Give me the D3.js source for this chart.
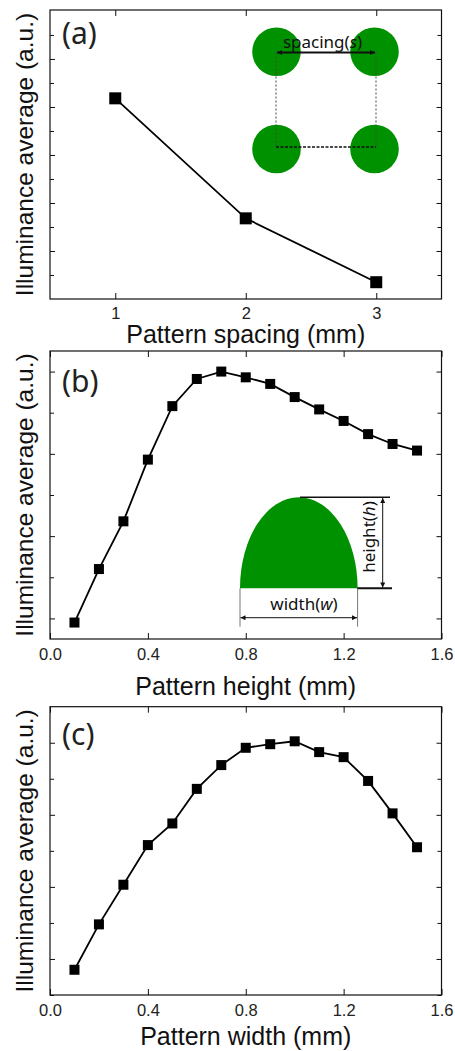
<!DOCTYPE html>
<html>
<head>
<meta charset="utf-8">
<script src="https://cdn.jsdelivr.net/npm/d3@7"></script>
<style>
  body { margin: 0; background: #fff; }
  svg { display: block; }
</style>
</head>
<body>
<div id="chart"></div>
<script>
// Data
const spacingX = [1, 2, 3];
const spacingY = [4.18, 1.68, 0.35];

const heightX = [0.1, 0.2, 0.3, 0.4, 0.5, 0.6, 0.7, 0.8, 0.9, 1.0, 1.1, 1.2, 1.3, 1.4, 1.5];
const heightY = [-0.05, 0.6, 1.18, 1.93, 2.58, 2.91, 3.0, 2.93, 2.85, 2.69, 2.54, 2.4, 2.24, 2.12, 2.04];

const widthX = [0.1, 0.2, 0.3, 0.4, 0.5, 0.6, 0.7, 0.8, 0.9, 1.0, 1.1, 1.2, 1.3, 1.4, 1.5];
const widthY = [-0.15, 0.48, 1.03, 1.58, 1.88, 2.36, 2.69, 2.93, 2.98, 3.02, 2.87, 2.8, 2.47, 2.02, 1.55];

const xTicksA = [1, 2, 3];
const xTicksBC = [0, 0.4, 0.8, 1.2, 1.6];

const panels = [
  {
    id: "a", label: "(a)", xs: spacingX, ys: spacingY,
    xDomain: [0.5, 3.5], yDomain: [0, 6.02],
    xTicks: xTicksA, xFormat: d3.format("d"),
    yMajor: [1, 2, 3, 4, 5], yMinor: [0.5, 1.5, 2.5, 3.5, 4.5, 5.5],
    xTitle: "Pattern spacing (mm)",
    top: 10, bottom: 299, markSize: 12, padding: 8, titleY: 343, labelY: 44
  },
  {
    id: "b", label: "(b)", xs: heightX, ys: heightY,
    xDomain: [0, 1.6], yDomain: [-0.25, 3.25],
    xTicks: xTicksBC, xFormat: d3.format(".1f"),
    yMajor: [0, 1, 2, 3], yMinor: [0.5, 1.5, 2.5],
    xTitle: "Pattern height (mm)",
    top: 351, bottom: 639, markSize: 10, padding: 9, titleY: 695, labelY: 392
  },
  {
    id: "c", label: "(c)", xs: widthX, ys: widthY,
    xDomain: [0, 1.6], yDomain: [-0.5, 3.5],
    xTicks: xTicksBC, xFormat: d3.format(".1f"),
    yMajor: [0, 1, 2, 3], yMinor: [-0.5, 0.5, 1.5, 2.5],
    xTitle: "Pattern width (mm)",
    top: 706.7, bottom: 995, markSize: 10, padding: 9, titleY: 1045, labelY: 745
  }
];

// Dimensions
const dimensions = { width: 455, height: 1051, left: 50, right: 441.5 };

const svg = d3
  .select("#chart")
  .append("svg")
  .attr("width", dimensions.width)
  .attr("height", dimensions.height)
  .style("font-family", "'Liberation Sans', Arial, sans-serif");

const defs = svg.append("defs");
defs
  .append("marker")
  .attr("id", "arr")
  .attr("viewBox", "0 0 10 10")
  .attr("refX", 10)
  .attr("refY", 5)
  .attr("markerUnits", "userSpaceOnUse")
  .attr("markerWidth", 7)
  .attr("markerHeight", 5)
  .attr("orient", "auto-start-reverse")
  .append("path")
  .attr("d", "M0,0 L10,5 L0,10 Z")
  .attr("fill", "#111");

const insetFont = "'Noto Sans', 'Open Sans', sans-serif";
const green = "#009100";

panels.forEach((p) => {
  const xScale = d3.scaleLinear().domain(p.xDomain).range([dimensions.left, dimensions.right]);
  const yScale = d3.scaleLinear().domain(p.yDomain).range([p.bottom, p.top]);
  const g = svg.append("g").attr("class", "panel-" + p.id);

  // ticks (inward on all four sides)
  const tickStyle = (sel) => {
    sel.select(".domain").remove();
    sel.selectAll(".tick line").attr("stroke", "#111");
  };
  g.append("g").attr("transform", `translate(${dimensions.left},0)`)
    .call(d3.axisLeft(yScale).tickValues(p.yMajor).tickSize(-5).tickFormat(""))
    .call(tickStyle);
  g.append("g").attr("transform", `translate(${dimensions.left},0)`)
    .call(d3.axisLeft(yScale).tickValues(p.yMinor).tickSize(-4).tickFormat(""))
    .call(tickStyle);
  g.append("g").attr("transform", `translate(${dimensions.right},0)`)
    .call(d3.axisRight(yScale).tickValues(p.yMajor).tickSize(-5).tickFormat(""))
    .call(tickStyle);
  g.append("g").attr("transform", `translate(${dimensions.right},0)`)
    .call(d3.axisRight(yScale).tickValues(p.yMinor).tickSize(-4).tickFormat(""))
    .call(tickStyle);
  g.append("g").attr("transform", `translate(0,${p.top})`)
    .call(d3.axisTop(xScale).tickValues(p.xTicks).tickSize(-6).tickFormat(""))
    .call(tickStyle);

  const xAxis = g.append("g").attr("transform", `translate(0,${p.bottom})`)
    .call(d3.axisBottom(xScale).tickValues(p.xTicks).tickSize(-6).tickPadding(p.padding).tickFormat(p.xFormat))
    .call(tickStyle);
  xAxis.attr("font-size", 16.5).attr("font-family", "'Liberation Sans', Arial, sans-serif");
  xAxis.selectAll(".tick text").attr("fill", "#222");

  // frame
  g.append("rect")
    .attr("x", dimensions.left)
    .attr("y", p.top)
    .attr("width", dimensions.right - dimensions.left)
    .attr("height", p.bottom - p.top)
    .attr("fill", "none")
    .attr("stroke", "#111")
    .attr("stroke-width", 1.2);

  // line + markers
  const data = p.xs.map((x, i) => ({ x, y: p.ys[i] }));
  const lineGenerator = d3.line().x((d) => xScale(d.x)).y((d) => yScale(d.y));
  g.append("path")
    .datum(data)
    .attr("d", lineGenerator)
    .attr("fill", "none")
    .attr("stroke", "#000")
    .attr("stroke-width", 1.8);
  g.selectAll("rect.pt")
    .data(data)
    .join("rect")
    .attr("class", "pt")
    .attr("x", (d) => xScale(d.x) - p.markSize / 2)
    .attr("y", (d) => yScale(d.y) - p.markSize / 2)
    .attr("width", p.markSize)
    .attr("height", p.markSize)
    .attr("fill", "#000");

  // titles
  g.append("text")
    .attr("x", (dimensions.left + dimensions.right) / 2)
    .attr("y", p.titleY)
    .attr("text-anchor", "middle")
    .attr("font-size", 25)
    .attr("fill", "#111")
    .text(p.xTitle);
  g.append("text")
    .attr("transform", `translate(33,${(p.top + p.bottom) / 2}) rotate(-90)`)
    .attr("text-anchor", "middle")
    .attr("font-size", 24.5)
    .attr("fill", "#111")
    .text("Illuminance average (a.u.)");
  g.append("text")
    .attr("x", 62)
    .attr("y", p.labelY)
    .attr("font-size", 30)
    .attr("font-family", insetFont)
    .attr("fill", "#222")
    .text(p.label);

  p.g = g;
});

// Inset (a): four circles with spacing
const insetA = panels[0].g.append("g");
const cxs = [276.5, 374.5];
const cys = [51.7, 149];
cys.forEach((cy) => cxs.forEach((cx) => {
  insetA.append("circle").attr("cx", cx).attr("cy", cy).attr("r", 24.3).attr("fill", green);
}));
[276, 376].forEach((x) => {
  insetA.append("line").attr("x1", x).attr("x2", x).attr("y1", 52.5).attr("y2", 147)
    .attr("stroke", "#444").attr("stroke-width", 1).attr("stroke-dasharray", "2,2");
});
insetA.append("line").attr("x1", 276).attr("x2", 376).attr("y1", 147).attr("y2", 147)
  .attr("stroke", "#111").attr("stroke-width", 1.6).attr("stroke-dasharray", "3,1.5");
insetA.append("line").attr("x1", 277).attr("x2", 375).attr("y1", 52.5).attr("y2", 52.5)
  .attr("stroke", "#111").attr("stroke-width", 1.8)
  .attr("marker-start", "url(#arr)").attr("marker-end", "url(#arr)");
const spacingText = insetA.append("text")
  .attr("x", 322.5).attr("y", 48).attr("text-anchor", "middle")
  .attr("font-size", 17).attr("font-family", insetFont).attr("fill", "#111");
spacingText.append("tspan").text("spacing(");
spacingText.append("tspan").attr("font-style", "italic").text("s");
spacingText.append("tspan").text(")");

// Inset (b): dome with height and width
const insetB = panels[1].g.append("g");
insetB.append("path")
  .attr("d", "M240,588.3 A58.8,91 0 0 1 357.6,588.3 Z")
  .attr("fill", green);
insetB.append("line").attr("x1", 300).attr("x2", 390).attr("y1", 497.3).attr("y2", 497.3)
  .attr("stroke", "#111").attr("stroke-width", 1.5);
insetB.append("line").attr("x1", 357).attr("x2", 392).attr("y1", 588.3).attr("y2", 588.3)
  .attr("stroke", "#111").attr("stroke-width", 2);
insetB.append("line").attr("x1", 382.7).attr("x2", 382.7).attr("y1", 498).attr("y2", 587.5)
  .attr("stroke", "#111").attr("stroke-width", 1)
  .attr("marker-start", "url(#arr)").attr("marker-end", "url(#arr)");
const hText = insetB.append("text")
  .attr("transform", "translate(375,537) rotate(-90)")
  .attr("text-anchor", "middle")
  .attr("font-size", 17).attr("font-family", insetFont).attr("fill", "#111");
hText.append("tspan").text("height(");
hText.append("tspan").attr("font-style", "italic").text("h");
hText.append("tspan").text(")");
[240, 357.6].forEach((x) => {
  insetB.append("line").attr("x1", x).attr("x2", x).attr("y1", 588.3).attr("y2", 626.7)
    .attr("stroke", "#777").attr("stroke-width", 1);
});
insetB.append("line").attr("x1", 240.5).attr("x2", 357).attr("y1", 617.7).attr("y2", 617.7)
  .attr("stroke", "#111").attr("stroke-width", 1)
  .attr("marker-start", "url(#arr)").attr("marker-end", "url(#arr)");
const wText = insetB.append("text")
  .attr("x", 304).attr("y", 610).attr("text-anchor", "middle")
  .attr("font-size", 17).attr("font-family", insetFont).attr("fill", "#111");
wText.append("tspan").text("width(");
wText.append("tspan").attr("font-style", "italic").text("w");
wText.append("tspan").text(")");
</script>
</body>
</html>
